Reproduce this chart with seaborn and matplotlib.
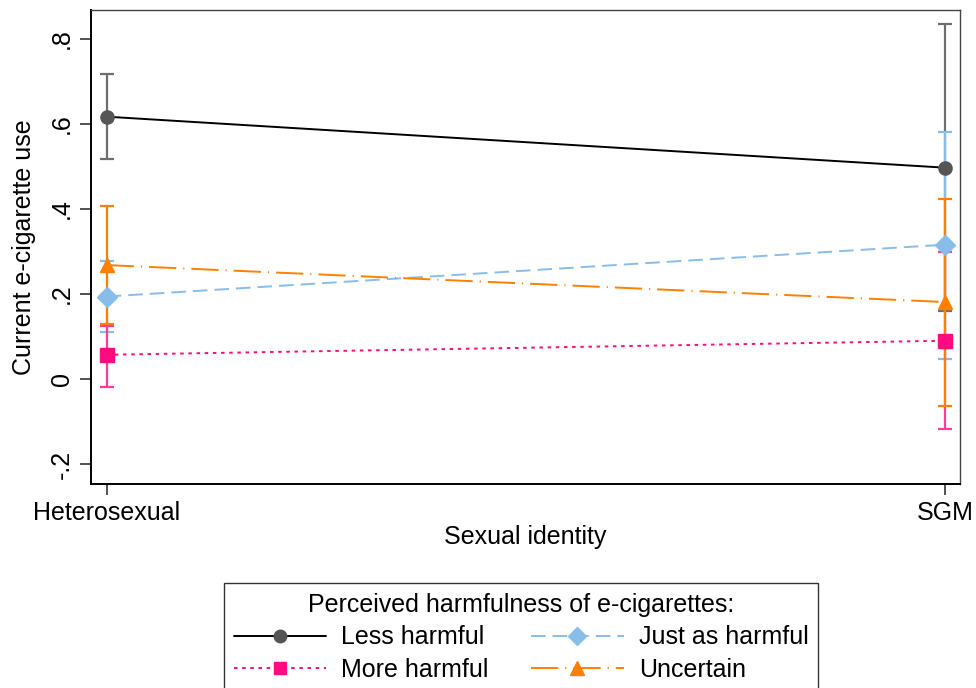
import numpy as np
import pandas as pd
import matplotlib
matplotlib.use('Agg')
import matplotlib.pyplot as plt
import seaborn as sns

# data
groups = ['Heterosexual', 'SGM']
series = ['Less harmful', 'Just as harmful', 'More harmful', 'Uncertain']
est = {
    'Less harmful':    [0.617, 0.497],
    'Just as harmful': [0.194, 0.316],
    'More harmful':    [0.057, 0.090],
    'Uncertain':       [0.268, 0.181],
}
ci_low = {
    'Less harmful':    [0.518, 0.161],
    'Just as harmful': [0.111, 0.048],
    'More harmful':    [-0.019, -0.118],
    'Uncertain':       [0.129, -0.063],
}
ci_high = {
    'Less harmful':    [0.718, 0.834],
    'Just as harmful': [0.278, 0.582],
    'More harmful':    [0.125, 0.299],
    'Uncertain':       [0.407, 0.424],
}
y_ticks = [-0.2, 0, 0.2, 0.4, 0.6, 0.8]
y_ticklabels = ['-.2', '0', '.2', '.4', '.6', '.8']

# styles
line_colors = {'Less harmful': '#000000', 'Just as harmful': '#87bde8',
               'More harmful': '#ff0a80', 'Uncertain': '#ff8000'}
marker_colors = {'Less harmful': '#555555', 'Just as harmful': '#87bde8',
                 'More harmful': '#ff0a80', 'Uncertain': '#ff8000'}
bar_colors = {'Less harmful': '#6e6e6e', 'Just as harmful': '#87bde8',
              'More harmful': '#ff3d96', 'Uncertain': '#ff8000'}
markers = {'Less harmful': 'o', 'Just as harmful': 'D',
           'More harmful': 's', 'Uncertain': '^'}
msizes = {'Less harmful': 9.5, 'Just as harmful': 10, 'More harmful': 9.5, 'Uncertain': 10.5}
dashes = {'Less harmful': '', 'Just as harmful': (7.5, 3.6),
          'More harmful': (1.8, 2.4), 'Uncertain': (14, 3.6, 0.6, 3.6)}

rows = []
for s in series:
    for i, g in enumerate(groups):
        rows.append({'x': i, 'group': g, 'series': s, 'y': est[s][i]})
df = pd.DataFrame(rows)

sns.set_theme(style='white')
plt.rcParams['font.family'] = ['Liberation Sans', 'DejaVu Sans']
plt.rcParams['font.size'] = 18
for key in ['text.color', 'axes.labelcolor', 'xtick.labelcolor', 'ytick.labelcolor']:
    plt.rcParams[key] = '#000000'

fig = plt.figure(figsize=(9.76, 6.88), dpi=100)
ax = fig.add_axes([0.093, 0.2965, 0.891, 0.6890])

# confidence intervals
for s in series:
    lo = np.array(ci_low[s])
    hi = np.array(ci_high[s])
    mid = np.array(est[s])
    ax.errorbar(np.arange(len(groups)), mid, yerr=[mid - lo, hi - mid],
                fmt='none', ecolor=bar_colors[s], elinewidth=1.6,
                capsize=5, capthick=1.6, zorder=2)

# point estimates joined by lines
sns.lineplot(data=df, x='x', y='y', hue='series', style='series',
             hue_order=series, style_order=series,
             palette=line_colors, dashes=dashes, markers=False,
             linewidth=1.4, ax=ax, legend=False, zorder=3)
for s in series:
    ax.plot(np.arange(len(groups)), est[s], linestyle='none',
            marker=markers[s], markersize=msizes[s],
            markerfacecolor=marker_colors[s], markeredgecolor=marker_colors[s],
            zorder=4)

ax.set_xlim(-0.019, 1.018)
ax.set_ylim(-0.247, 0.868)
ax.set_xticks(range(len(groups)))
ax.set_xticklabels(groups, fontsize=18, color='#000000')
ax.set_yticks(y_ticks)
ax.set_yticklabels(y_ticklabels, fontsize=18, rotation=90, va='center', color='#000000')
ax.set_xlabel('Sexual identity', fontsize=18, labelpad=0, color='#000000')
ax.set_ylabel('Current e-cigarette use', fontsize=18, labelpad=10, color='#000000')
ax.tick_params(axis='both', direction='out', length=8, width=1.2,
               color='#333333', left=True, bottom=True, pad=4)
ax.grid(False)
for side in ['left', 'bottom']:
    ax.spines[side].set_color('#000000')
    ax.spines[side].set_linewidth(1.4)
for side in ['top', 'right']:
    ax.spines[side].set_color('#444444')
    ax.spines[side].set_linewidth(1.0)

# legend
handles = []
for s in series:
    h, = ax.plot([], [], color=line_colors[s], linewidth=1.4,
                 marker=markers[s], markersize=msizes[s] - 0.5,
                 markerfacecolor=marker_colors[s], markeredgecolor=marker_colors[s])
    if dashes[s]:
        h.set_dashes(dashes[s])
    handles.append(h)
order = [0, 2, 1, 3]
leg = fig.legend([handles[i] for i in order], [series[i] for i in order],
                 title='Perceived harmfulness of e-cigarettes:',
                 loc='upper center', bbox_to_anchor=(0.534, 0.153), ncol=2,
                 fontsize=18, title_fontsize=18, frameon=True, fancybox=False,
                 edgecolor='#000000', handlelength=3.7, handletextpad=0.6,
                 columnspacing=1.7, labelspacing=0.35, borderpad=0.4,
                 borderaxespad=0)
leg.get_frame().set_linewidth(1.0)
leg.get_title().set_color('#000000')
for t in leg.get_texts():
    t.set_color('#000000')

fig.savefig('out.png', dpi=100)
